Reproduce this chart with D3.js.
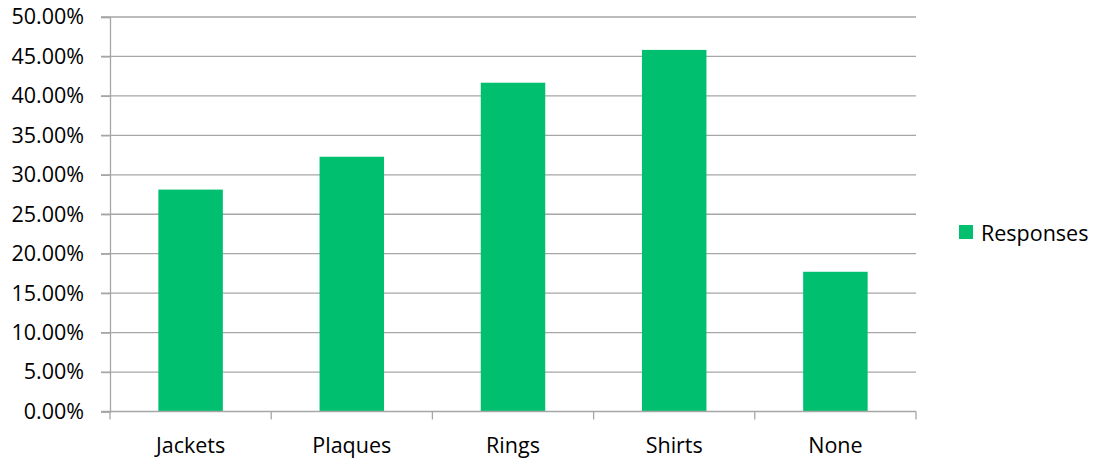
<!DOCTYPE html>
<html>
<head>
<meta charset="utf-8">
<script src="https://cdn.jsdelivr.net/npm/d3@7"></script>
<style>
  html, body { margin: 0; padding: 0; background: #fff; }
  svg { display: block; }
  text { font-family: "Open Sans", Lato, sans-serif; fill: #000; }
</style>
</head>
<body>
<svg id="chart" width="1097" height="459"></svg>
<script>
const categories = ["Jackets", "Plaques", "Rings", "Shirts", "None"];
const responses = [0.28125, 0.3229, 0.4167, 0.4583, 0.1771];
const yTicks = [0, 0.05, 0.10, 0.15, 0.20, 0.25, 0.30, 0.35, 0.40, 0.45, 0.50];
const seriesName = "Responses";

const svg = d3.select("#chart");
const plotLeft = 110, plotRight = 916, plotTop = 17, plotBottom = 411.5;
const barColor = "#00BF6F";
const gridColor = "#A6A6A6";
const fontFamily = "'Open Sans', Lato, sans-serif";
const fontSize = 21.5;

const x = d3.scaleBand().domain(categories).range([plotLeft, plotRight]).padding(0);
const y = d3.scaleLinear().domain([0, 0.5]).range([plotBottom, plotTop]);

// gridlines
svg.append("g").selectAll("line").data(yTicks.filter(d => d > 0)).join("line")
  .attr("x1", plotLeft - 9).attr("x2", plotRight)
  .attr("y1", d => y(d)).attr("y2", d => y(d))
  .attr("stroke", gridColor).attr("stroke-width", 1.3);

// bars
const bw = x.bandwidth() * 0.4;
svg.append("g").selectAll("rect").data(responses).join("rect")
  .attr("x", (d, i) => x(categories[i]) + x.bandwidth() / 2 - bw / 2)
  .attr("width", bw)
  .attr("y", d => y(d))
  .attr("height", d => y(0) - y(d))
  .attr("fill", barColor);

// y axis
const yAxis = d3.axisLeft(y).tickValues(yTicks).tickFormat(d3.format(".2%")).tickSize(9).tickPadding(17);
const gy = svg.append("g").attr("transform", `translate(${plotLeft},0)`).call(yAxis);
gy.select(".domain").attr("stroke", gridColor).attr("stroke-width", 1.3);
gy.selectAll(".tick line").attr("stroke", gridColor).attr("stroke-width", 1.3);
gy.selectAll(".tick text").attr("font-size", fontSize).attr("font-family", fontFamily).attr("fill", "#000");

// x axis
const xAxis = d3.axisBottom(x).tickSize(0).tickPadding(26);
const gx = svg.append("g").attr("transform", `translate(0,${plotBottom})`).call(xAxis);
gx.select(".domain").attr("stroke", gridColor).attr("stroke-width", 1.3).attr("d", `M${plotLeft - 9},0H${plotRight}`);
gx.selectAll(".tick text").attr("font-size", fontSize).attr("font-family", fontFamily).attr("fill", "#000");
// category separator ticks
const sepPositions = categories.map(c => x(c)).concat([plotRight]);
gx.append("g").selectAll("line").data(sepPositions).join("line")
  .attr("x1", d => d).attr("x2", d => d).attr("y1", 0).attr("y2", 8)
  .attr("stroke", gridColor).attr("stroke-width", 1.3);

// legend
const lg = svg.append("g").attr("transform", "translate(959,225)");
lg.append("rect").attr("width", 14).attr("height", 14).attr("fill", barColor);
lg.append("text").attr("x", 22).attr("y", 15.5).attr("font-size", fontSize).attr("font-family", fontFamily).text(seriesName);
</script>
</body>
</html>
